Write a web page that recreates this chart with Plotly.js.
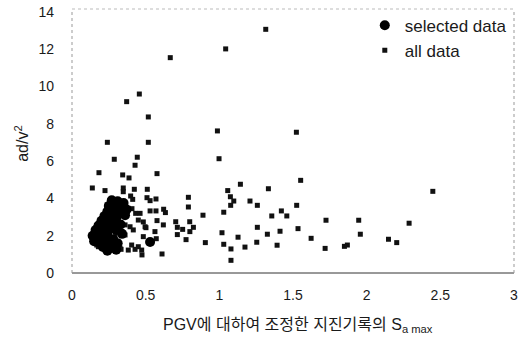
<!DOCTYPE html>
<html>
<head>
<meta charset="utf-8">
<script src="https://cdn.plot.ly/plotly-3.0.1.min.js"></script>
<style>html,body{margin:0;padding:0;background:#fff;}#chart{width:520px;height:338px;}</style>
</head>
<body>
<div id="chart"></div>
<script>
// "selected data" series
var selectedX = [0.27,0.31,0.35,0.25,0.29,0.33,0.37,0.24,0.28,0.32,0.36,0.22,
                 0.26,0.30,0.20,0.24,0.28,0.33,0.18,0.22,0.26,0.30,0.16,0.20,0.24,0.34,
                 0.14,0.18,0.22,0.28,0.15,0.19,0.25,0.31,0.21,0.28,0.24,0.30,0.53];
var selectedY = [3.90,3.85,3.75,3.60,3.55,3.50,3.40,3.30,3.25,3.20,3.10,3.05,
                 3.00,2.95,2.80,2.75,2.70,2.60,2.55,2.50,2.40,2.30,2.30,2.20,2.10,2.10,
                 2.00,1.95,1.85,1.80,1.70,1.60,1.55,1.60,1.40,1.35,1.20,1.25,1.66];

// "all data" series
var allX = [1.315,1.043,0.667,0.457,0.371,0.518,0.987,1.523,0.240,0.518,
            1.552,1.333,1.258,1.525,1.421,1.356,1.458,1.724,1.946,1.258,
            1.534,1.412,1.326,1.957,1.623,1.254,1.392,1.718,1.849,1.869,
            1.208,2.449,2.288,2.148,2.204,0.287,0.443,0.428,0.998,0.183,
            0.344,0.387,0.577,0.138,0.224,0.348,0.348,0.423,0.511,0.398,
            0.412,0.509,0.530,0.570,0.790,0.790,0.407,0.432,0.462,0.530,
            0.570,0.622,0.634,0.889,1.030,1.057,1.143,1.075,1.098,1.077,
            0.577,0.704,0.799,0.620,0.715,0.751,0.824,0.715,0.774,0.905,
            1.018,1.030,1.079,1.127,1.174,1.079,0.611,0.475,0.530,0.572,
            0.502,0.484,0.333,0.428,0.382,0.450,0.360,0.394,0.416,0.496,
            0.563,0.292,0.360,0.484,0.405,0.326,0.450,0.473,0.145,0.179,
            0.382,0.168,0.190,0.800];
var allY = [13.07,12.02,11.55,9.60,9.19,8.37,7.62,7.55,7.01,7.01,
            4.97,4.52,3.63,3.63,3.33,3.06,3.06,2.83,2.83,2.45,
            2.38,2.24,2.08,2.08,1.86,1.65,1.49,1.32,1.43,1.50,
            3.86,4.38,2.67,1.81,1.63,6.10,6.21,5.78,6.13,5.38,
            5.26,5.10,5.33,4.56,4.42,4.56,4.36,4.49,4.49,4.13,
            3.95,4.04,3.88,3.97,4.06,3.54,3.45,3.20,3.20,3.33,
            3.33,3.42,3.24,3.10,3.26,4.42,4.76,4.09,3.86,3.63,
            2.81,2.75,2.75,2.58,2.45,2.34,2.45,2.06,1.79,1.63,
            2.16,1.54,1.29,1.92,1.39,0.68,1.02,0.97,1.66,1.84,
            2.43,2.74,1.27,1.27,3.47,2.84,2.58,2.48,2.31,2.48,
            2.22,1.95,2.04,1.95,1.50,1.33,1.41,1.23,1.77,1.41,
            1.23,1.50,1.86,2.22];

var xTickVals = [0,0.5,1,1.5,2,2.5,3];
var xTickText = ["0","0.5","1","1.5","2","2.5","3"];
var yTickVals = [0,2,4,6,8,10,12,14];
var yTickText = ["0","2","4","6","8","10","12","14"];

var seriesNames = ["selected data", "all data"];

var traces = [
  {
    x: allX, y: allY, type: 'scatter', mode: 'markers', name: seriesNames[1],
    marker: {symbol: 'square', size: 5, color: '#111'}
  },
  {
    x: selectedX, y: selectedY, type: 'scatter', mode: 'markers', name: seriesNames[0],
    marker: {symbol: 'circle', size: 10, color: '#000'}
  }
];

var font = "Liberation Sans, Arial, 'Noto Sans CJK KR', sans-serif";

var layout = {
  width: 520, height: 338,
  margin: {l: 72, r: 6, t: 9, b: 65},
  paper_bgcolor: '#fff', plot_bgcolor: '#fff',
  font: {family: font, color: '#1a1a1a', size: 14},
  showlegend: true,
  legend: {
    x: 0.995, y: 1.005, xanchor: 'right', yanchor: 'top',
    traceorder: 'reversed',
    bgcolor: 'rgba(0,0,0,0)', font: {size: 17, color: '#1a1a1a'},
    itemwidth: 30
  },
  xaxis: {
    range: [0, 3], tickvals: xTickVals, ticktext: xTickText,
    showgrid: false, zeroline: false, showline: false, ticks: '',
    ticklabelstandoff: 12, tickfont: {size: 14}, automargin: false
  },
  yaxis: {
    range: [0, 14.16], tickvals: yTickVals, ticktext: yTickText,
    showgrid: false, zeroline: false, showline: false, ticks: '',
    ticklabelstandoff: 17, tickfont: {size: 14}, automargin: false
  },
  shapes: [
    {type: 'line', xref: 'paper', yref: 'paper', x0: 0, x1: 1, y0: 0, y1: 0, line: {color: '#333', width: 1}},
    {type: 'line', xref: 'paper', yref: 'paper', x0: 0, x1: 0, y0: 0, y1: 1, line: {color: '#999', width: 1, dash: 'dot'}},
    {type: 'line', xref: 'paper', yref: 'paper', x0: 0, x1: 1, y0: 1, y1: 1, line: {color: '#bbb', width: 1, dash: 'dot'}},
    {type: 'line', xref: 'paper', yref: 'paper', x0: 1, x1: 1, y0: 0, y1: 1, line: {color: '#999', width: 1, dash: 'dot'}}
  ],
  annotations: [
    {xref: 'paper', yref: 'paper', x: -0.115, y: 0.49, text: 'ad/v<sup>2</sup>', textangle: -90,
     showarrow: false, xanchor: 'center', yanchor: 'middle', font: {size: 16, color: '#1a1a1a'}},
    {xref: 'paper', yref: 'paper', x: 0.511, y: -0.20, text: 'PGV에 대하여 조정한 지진기록의 S<sub>a max</sub>',
     showarrow: false, xanchor: 'center', yanchor: 'middle', font: {size: 16, color: '#1a1a1a', family: "Liberation Sans, 'Noto Sans CJK KR', sans-serif"}}
  ]
};

Plotly.newPlot('chart', traces, layout, {displayModeBar: false, staticPlot: true});
</script>
</body>
</html>
